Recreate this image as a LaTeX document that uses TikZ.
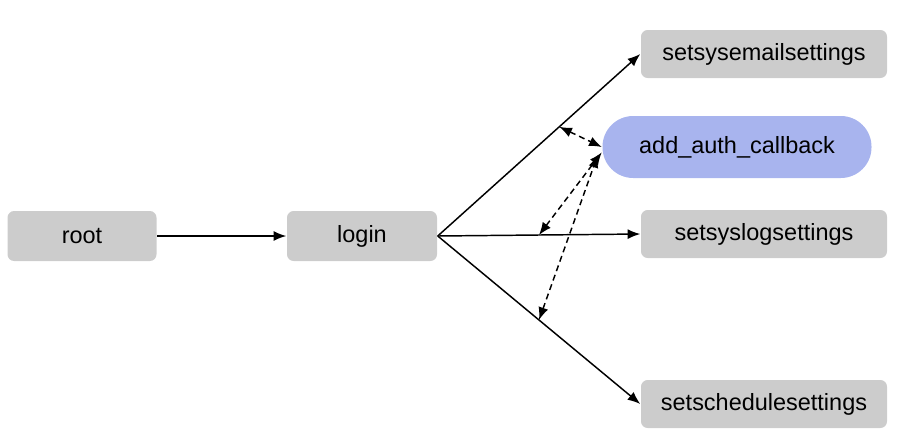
\documentclass[tikz,border=0pt]{standalone}
\usepackage{fontspec}
\setmainfont{Liberation Sans}
\usepackage{xcolor}
\usetikzlibrary{arrows.meta}
\definecolor{boxgray}{HTML}{CCCCCC}
\definecolor{cbblue}{HTML}{A8B4EE}

\begin{document}
\begin{tikzpicture}[x=0.75pt,y=-0.75pt,>={Latex[length=9.5pt,width=7.5pt]},line width=1.1pt,
  fn/.style={fill=boxgray,rounded corners=5pt,minimum width=184.5pt,minimum height=36pt,inner sep=0pt,font=\fontsize{17.6}{21}\selectfont},
  cb/.style={fn,fill=cbblue,rounded corners=23pt,minimum width=201.75pt,minimum height=46.5pt},
  hook/.style={<->,dash pattern=on 4.5pt off 3pt}]
\useasboundingbox (0,0) rectangle (917,436);
% functions
\node[fn,minimum width=111.75pt,minimum height=37.5pt] (root) at (82,236) {root};
\node[fn,minimum width=112.5pt,minimum height=37.5pt] (login) at (362,236) {login};
\node[fn] (email) at (764,54) {setsysemailsettings};
\node[cb] (auth) at (737,147) {add\_auth\_callback};
\node[fn] (syslog) at (764,234) {setsyslogsettings};
\node[fn] (sched) at (764,404) {setschedulesettings};
% calls
\draw[->] (root) -- (login);
\draw[->] (login.east) -- coordinate[pos=0.6] (c1) (email.west);
\draw[->] (login.east) -- coordinate[pos=0.5] (c2) (syslog.west);
\draw[->] (login.east) -- coordinate[pos=0.5] (c3) (sched.west);
% callback
\draw[hook] (c1) -- (auth.west);
\draw[hook] (c2) -- ([yshift=-4pt]auth.west);
\draw[hook] (c3) -- ([xshift=-3pt,yshift=-6pt]auth.west);
\end{tikzpicture}
\end{document}
